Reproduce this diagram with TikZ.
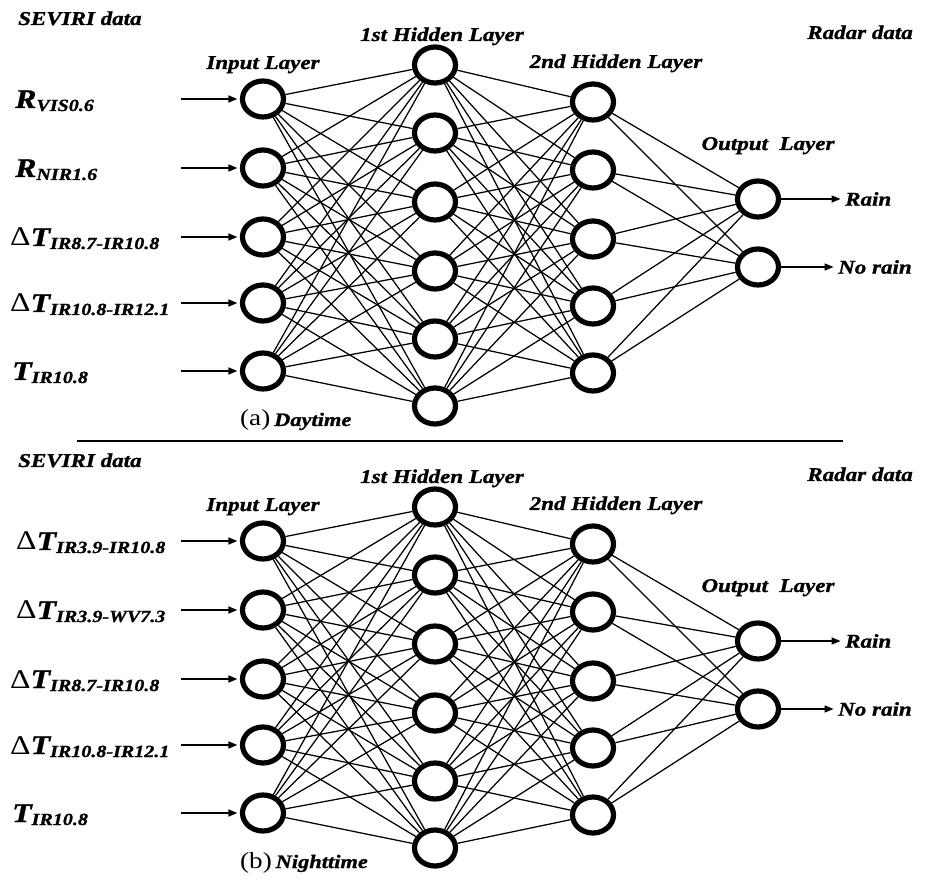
\documentclass[tikz,border=0pt]{standalone}
\usepackage{fontspec}
\setmainfont[FakeStretch=1.18, BoldItalicFeatures={FakeBold=1.2}]{Liberation Serif}
\usetikzlibrary{shapes.geometric, arrows.meta, positioning}
\newcommand{\bandvar}[2]{{\fontsize{27}{30}\selectfont #1}\raisebox{-3pt}{\fontsize{17}{20}\selectfont #2}}
\newcommand{\dlt}{{\normalfont Δ}}

\begin{document}
\begin{tikzpicture}[x=1pt, y=-1pt, >={Triangle[length=9pt, width=7pt]},
    neuron/.style={draw, ellipse, line width=5.2pt, minimum width=41pt, minimum height=36pt, inner sep=0pt},
    wire/.style={line width=1.25pt},
    feed/.style={->, line width=1.5pt, shorten >=2.5pt},
    laytitle/.style={font=\fontsize{19.5}{22}\selectfont\bfseries\itshape, inner sep=0pt},
    varlabel/.style={font=\bfseries\itshape, anchor=base west, inner sep=0pt}]
      \useasboundingbox (0,0) rectangle (930,882);

      % Nodes (a = daytime, b = nighttime)
      \foreach \p/\dy in {a/0, b/442} {
        \foreach \y [count=\i] in {99,168,237,303,371} {
          \node[neuron] (\p-i\i) at (263,{\y+\dy}) {};
          \coordinate (\p-s\i) at (181,{\y+\dy});
        }
        \foreach \y [count=\i] in {65,133,202,271,339,406}
          \node[neuron] (\p-h\i) at (435,{\y+\dy}) {};
        \foreach \y [count=\i] in {102,170,239,306,373}
          \node[neuron] (\p-k\i) at (593,{\y+\dy}) {};
        \foreach \y [count=\i] in {199,267}
          \node[neuron] (\p-o\i) at (758,{\y+\dy}) {};

        \node[laytitle, anchor=base west] (\p-sev) at (18,{25+\dy}) {SEVIRI data};
        \node[laytitle, anchor=base east] (\p-radar) at (913,{39+\dy}) {Radar data};
        \node[laytitle, anchor=base] (\p-tin) at (263,{69+\dy}) {Input Layer};
        \node[laytitle, anchor=base] (\p-th1) at (442,{41+\dy}) {1st Hidden Layer};
        \node[laytitle, anchor=base] (\p-th2) at (616,{68+\dy}) {2nd Hidden Layer};
        \node[laytitle, anchor=base] (\p-tout) at (768,{150+\dy}) {Output\ \ Layer};
        \node[laytitle, anchor=west, inner sep=2pt] (\p-rain) at (843,{199+\dy}) {Rain};
        \node[laytitle, anchor=west, inner sep=2pt] (\p-norain) at (836,{267+\dy}) {No rain};
      }

      % Daytime inputs
      \node[varlabel] (a-x1) at (15,108) {\bandvar{R}{VIS0.6}};
      \node[varlabel] (a-x2) at (15,177) {\bandvar{R}{NIR1.6}};
      \node[varlabel] (a-x3) at (10,246) {\bandvar{\dlt T}{IR8.7-IR10.8}};
      \node[varlabel] (a-x4) at (10,312) {\bandvar{\dlt T}{IR10.8-IR12.1}};
      \node[varlabel] (a-x5) at (12,380) {\bandvar{T}{IR10.8}};

      % Nighttime inputs
      \node[varlabel] (b-x1) at (16,550) {\bandvar{\dlt T}{IR3.9-IR10.8}};
      \node[varlabel] (b-x2) at (16,619) {\bandvar{\dlt T}{IR3.9-WV7.3}};
      \node[varlabel] (b-x3) at (10,688) {\bandvar{\dlt T}{IR8.7-IR10.8}};
      \node[varlabel] (b-x4) at (10,754) {\bandvar{\dlt T}{IR10.8-IR12.1}};
      \node[varlabel] (b-x5) at (12,822) {\bandvar{T}{IR10.8}};

      % Captions
      \node[anchor=base west, inner sep=0pt] (a-cap) at (240,426)
        {\fontsize{23}{24}\selectfont (a)\,{\fontsize{19}{22}\selectfont\bfseries\itshape Daytime}};
      \node[anchor=base west, inner sep=0pt] (b-cap) at (240,868)
        {\fontsize{23}{24}\selectfont (b)\,{\fontsize{19}{22}\selectfont\bfseries\itshape Nighttime}};

      % Separator
      \draw[line width=1.4pt] (77,441) -- (843,441);

      % Connections
      \foreach \p in {a,b} {
        \foreach \i in {1,...,5} \foreach \j in {1,...,6} \draw[wire] (\p-i\i) -- (\p-h\j);
        \foreach \i in {1,...,6} \foreach \j in {1,...,5} \draw[wire] (\p-h\i) -- (\p-k\j);
        \foreach \i in {1,...,5} \foreach \j in {1,2} \draw[wire] (\p-k\i) -- (\p-o\j);
        \foreach \i in {1,...,5} \draw[feed] (\p-s\i) -- (\p-i\i);
        \draw[feed] (\p-o1) -- (\p-rain);
        \draw[feed] (\p-o2) -- (\p-norain);
      }
    \end{tikzpicture}
\end{document}
